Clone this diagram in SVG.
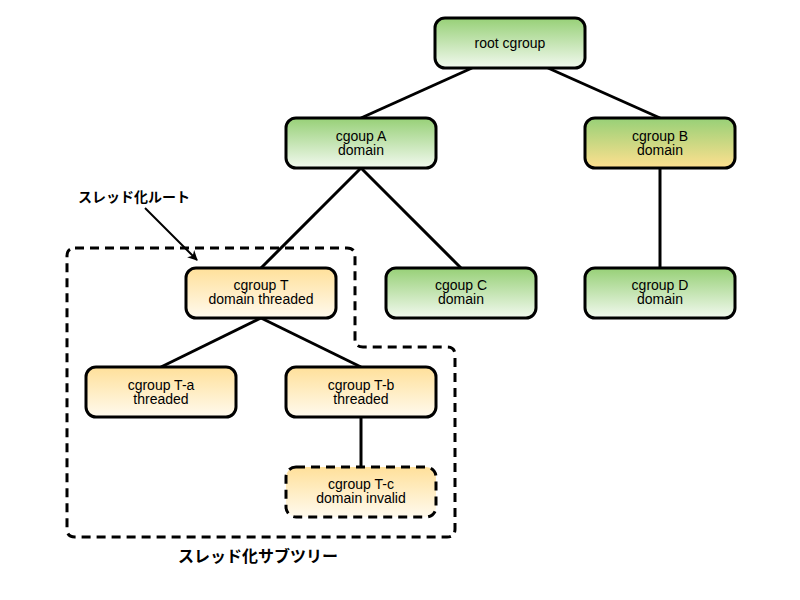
<svg xmlns="http://www.w3.org/2000/svg" width="800" height="600" viewBox="0 0 800 600">
<defs>
<linearGradient id="gGreen" x1="0" y1="0" x2="0" y2="1">
<stop offset="0" stop-color="#97d077"/><stop offset="1" stop-color="#f2f9ef"/>
</linearGradient>
<linearGradient id="gYellow" x1="0" y1="0" x2="0" y2="1">
<stop offset="0" stop-color="#ffe09a"/><stop offset="1" stop-color="#fffaee"/>
</linearGradient>
<linearGradient id="gGY" x1="0" y1="0" x2="0" y2="1">
<stop offset="0" stop-color="#97d077"/><stop offset="1" stop-color="#ffe08f"/>
</linearGradient>
<marker id="arr" markerWidth="10" markerHeight="10" refX="9" refY="5" orient="auto" markerUnits="userSpaceOnUse">
<path d="M0,0 L10,5 L0,10 L3,5 Z" fill="#000"/>
</marker>
<style>
.box{stroke:#000;stroke-width:3}
.dash{stroke-dasharray:9 6}
.t{font-family:"Liberation Sans",Arial,sans-serif;font-size:14px;fill:#000;text-anchor:middle}
.jp{font-family:"Liberation Sans","Noto Sans CJK JP",sans-serif;font-weight:bold;fill:#000}
.edge{stroke:#000;stroke-width:3;fill:none}
</style>
</defs>
<rect width="800" height="600" fill="#fff"/>
<g id="subtree-region">
<path d="M75,248 H347 Q355,248 355,256 V339 Q355,347 363,347 H447 Q455,347 455,355 V529 Q455,537 447,537 H75 Q67,537 67,529 V256 Q67,248 75,248 Z" fill="none" stroke="#000" stroke-width="3" class="dash"/>
</g>
<g id="connectors">
<line class="edge" x1="472" y1="68" x2="361" y2="118"/>
<line class="edge" x1="548" y1="68" x2="660" y2="118"/>
<line class="edge" x1="361" y1="168" x2="261" y2="268"/>
<line class="edge" x1="361" y1="168" x2="461" y2="268"/>
<line class="edge" x1="660" y1="168" x2="660" y2="268"/>
<line class="edge" x1="261" y1="318" x2="161" y2="367"/>
<line class="edge" x1="261" y1="318" x2="361" y2="367"/>
<line class="edge" x1="361" y1="417" x2="361" y2="467"/>
<line x1="145" y1="208" x2="197" y2="260" stroke="#000" stroke-width="2" marker-end="url(#arr)"/>
</g>
<g id="root"><rect class="box" x="435" y="18" width="150" height="50" rx="10" fill="url(#gGreen)"/><text class="t" x="510" y="48">root cgroup</text></g>
<g id="A"><rect class="box" x="286" y="118" width="150" height="50" rx="10" fill="url(#gGreen)"/><text class="t" x="361" y="141">cgoup A</text><text class="t" x="361" y="155">domain</text></g>
<g id="B"><rect class="box" x="585" y="118" width="150" height="50" rx="10" fill="url(#gGY)"/><text class="t" x="660" y="141">cgroup B</text><text class="t" x="660" y="155">domain</text></g>
<g id="T"><rect class="box" x="186" y="268" width="150" height="50" rx="10" fill="url(#gYellow)"/><text class="t" x="261" y="290">cgroup T</text><text class="t" x="261" y="304">domain threaded</text></g>
<g id="C"><rect class="box" x="386" y="268" width="150" height="50" rx="10" fill="url(#gGreen)"/><text class="t" x="461" y="290">cgoup C</text><text class="t" x="461" y="304">domain</text></g>
<g id="D"><rect class="box" x="585" y="268" width="150" height="50" rx="10" fill="url(#gGreen)"/><text class="t" x="660" y="290">cgroup D</text><text class="t" x="660" y="304">domain</text></g>
<g id="Ta"><rect class="box" x="86" y="367" width="150" height="50" rx="10" fill="url(#gYellow)"/><text class="t" x="161" y="390">cgroup T-a</text><text class="t" x="161" y="404">threaded</text></g>
<g id="Tb"><rect class="box" x="286" y="367" width="150" height="50" rx="10" fill="url(#gYellow)"/><text class="t" x="361" y="390">cgroup T-b</text><text class="t" x="361" y="404">threaded</text></g>
<g id="Tc"><rect class="box dash" x="286" y="467" width="150" height="50" rx="10" fill="url(#gYellow)"/><text class="t" x="361" y="489">cgroup T-c</text><text class="t" x="361" y="503">domain invalid</text></g>
<g id="label-root"><text class="jp" x="78" y="202" font-size="14">スレッド化ルート</text></g>
<g id="label-subtree"><text class="jp" x="258" y="562" font-size="16" text-anchor="middle">スレッド化サブツリー</text></g>
</svg>
